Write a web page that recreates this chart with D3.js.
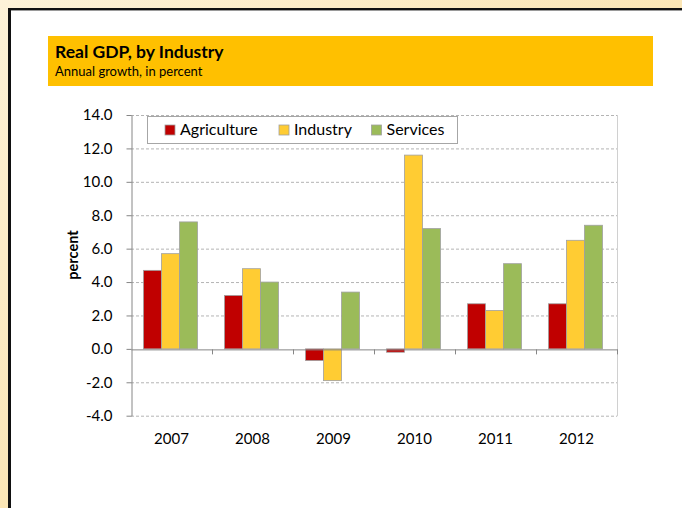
<!DOCTYPE html>
<html>
<head>
<meta charset="utf-8">
<script src="https://cdn.jsdelivr.net/npm/d3@7"></script>
<style>
  html, body { margin: 0; padding: 0; background: #fcefd3; }
  svg { display: block; }
  text { font-family: Lato, "Open Sans", sans-serif; fill: #000; }
</style>
</head>
<body>
<svg id="chart" width="682" height="508"></svg>
<script>
// Annual growth of real GDP by industry, percent
const years = ["2007", "2008", "2009", "2010", "2011", "2012"];
const seriesNames = ["Agriculture", "Industry", "Services"];
const agriculture = [4.7, 3.2, -0.7, -0.2, 2.7, 2.7];
const industry = [5.7, 4.8, -1.9, 11.6, 2.3, 6.5];
const services = [7.6, 4.0, 3.4, 7.2, 5.1, 7.4];
const yTicks = [-4, -2, 0, 2, 4, 6, 8, 10, 12, 14];
const seriesColors = ["#c00000", "#ffcc33", "#9bbb59"];

const seriesValues = [agriculture, industry, services];
const rows = years.map((y, i) => ({
  year: y,
  values: seriesNames.map((s, j) => ({ series: s, value: seriesValues[j][i] }))
}));

const svg = d3.select("#chart");

// page backdrop and framed white panel
const defs = svg.append("defs");
const bg = defs.append("linearGradient").attr("id", "bg")
  .attr("x1", "0").attr("y1", "0").attr("x2", "1").attr("y2", "1");
bg.append("stop").attr("offset", "0").attr("stop-color", "#fdf2d8");
bg.append("stop").attr("offset", "0.5").attr("stop-color", "#fbe6b6");
bg.append("stop").attr("offset", "1").attr("stop-color", "#f9dfa6");
svg.append("rect").attr("width", 682).attr("height", 508).attr("fill", "url(#bg)");
svg.append("rect").attr("x", 8).attr("y", 8).attr("width", 674).attr("height", 500).attr("fill", "#fff");
svg.append("rect").attr("x", 8).attr("y", 8).attr("width", 674).attr("height", 2).attr("fill", "#111");
svg.append("rect").attr("x", 8).attr("y", 10).attr("width", 674).attr("height", 1).attr("fill", "#9a9a9a");
svg.append("rect").attr("x", 8).attr("y", 8).attr("width", 3).attr("height", 500).attr("fill", "#111");

// header band
svg.append("rect").attr("x", 48).attr("y", 36).attr("width", 605).attr("height", 50).attr("fill", "#ffc000");
svg.append("text").attr("x", 55).attr("y", 57.5)
  .attr("font-size", 17.5).attr("font-weight", "bold").text("Real GDP, by Industry");
svg.append("text").attr("x", 55).attr("y", 76)
  .attr("font-size", 13).text("Annual growth, in percent");

// plot geometry
const plot = { left: 131, right: 617, top: 115, bottom: 415.7 };

const y = d3.scaleLinear().domain([-4, 14]).range([plot.bottom, plot.top]);
const x0 = d3.scaleBand().domain(years).range([plot.left, plot.right]).padding(0);
const x1 = d3.scaleBand().domain(seriesNames).range([0, x0.bandwidth()])
  .paddingInner(0).paddingOuter(0.75);
const color = d3.scaleOrdinal().domain(seriesNames).range(seriesColors);

// dashed gridlines
svg.append("g").selectAll("line")
  .data(yTicks.filter(t => t !== 0))
  .join("line")
  .attr("x1", plot.left).attr("x2", plot.right)
  .attr("y1", d => y(d) + 0.5).attr("y2", d => y(d) + 0.5)
  .attr("stroke", "#b4b4b4").attr("stroke-width", 1)
  .attr("stroke-dasharray", "3,2");

// plot area right edge
svg.append("line")
  .attr("x1", plot.right + 0.5).attr("x2", plot.right + 0.5)
  .attr("y1", plot.top).attr("y2", plot.bottom + 0.5)
  .attr("stroke", "#d0d0d0");

// bars
svg.append("g").selectAll("g")
  .data(rows)
  .join("g")
  .attr("transform", d => `translate(${x0(d.year) - 1},0)`)
  .selectAll("rect")
  .data(d => d.values)
  .join("rect")
  .attr("x", d => x1(d.series))
  .attr("y", d => y(Math.max(0, d.value)))
  .attr("width", x1.bandwidth())
  .attr("height", d => Math.abs(y(d.value) - y(0)))
  .attr("fill", d => color(d.series))
  .attr("stroke", "#a0a0a0")
  .attr("stroke-width", 0.8);

// y axis
const yAxis = d3.axisLeft(y)
  .tickValues(yTicks)
  .tickFormat(d3.format(".1f"))
  .tickSize(5).tickSizeOuter(0).tickPadding(14);
const gy = svg.append("g").attr("transform", `translate(${plot.left + 0.5},0)`).call(yAxis);
gy.select(".domain").attr("stroke", "#868686");
gy.selectAll(".tick line").attr("stroke", "#868686");
gy.selectAll(".tick text")
  .attr("font-size", 15).attr("fill", "#000")
  .style("font-family", "Lato, 'Open Sans', sans-serif")
  .text(d => d3.format(".1f")(d).replace("\u2212", "-"));

// zero baseline with category ticks
const gx = svg.append("g").attr("transform", `translate(0,${y(0) + 0.5})`)
  .call(d3.axisBottom(x0).tickValues([]).tickSize(0).tickSizeOuter(0));
gx.select(".domain").attr("stroke", "#868686");
gx.selectAll("line.cat")
  .data(years)
  .join("line").attr("class", "cat")
  .attr("x1", d => x0(d) + x0.bandwidth() + 0.5)
  .attr("x2", d => x0(d) + x0.bandwidth() + 0.5)
  .attr("y1", 0).attr("y2", 5)
  .attr("stroke", "#868686");

// category labels under the plot
svg.append("g").selectAll("text")
  .data(years)
  .join("text")
  .attr("x", d => x0(d) + x0.bandwidth() / 2)
  .attr("y", 444)
  .attr("text-anchor", "middle")
  .attr("font-size", 15)
  .text(d => d);

// y axis title
svg.append("text")
  .attr("transform", "translate(78,255) rotate(-90)")
  .attr("text-anchor", "middle")
  .attr("font-size", 14.5).attr("font-weight", "bold")
  .text("percent");

// legend
const legend = svg.append("g");
legend.append("rect")
  .attr("x", 147.5).attr("y", 116.5).attr("width", 310).attr("height", 27)
  .attr("fill", "#fff").attr("stroke", "#a6a6a6");
const legendX = [165, 279, 371.5];
const items = legend.selectAll("g.item")
  .data(seriesNames)
  .join("g").attr("class", "item")
  .attr("transform", (d, i) => `translate(${legendX[i]},125)`);
items.append("rect")
  .attr("width", 10).attr("height", 10)
  .attr("fill", d => color(d)).attr("stroke", "#a0a0a0").attr("stroke-width", 0.8);
items.append("text")
  .attr("x", 15).attr("y", 10)
  .attr("font-size", 16)
  .text(d => d);
</script>
</body>
</html>
